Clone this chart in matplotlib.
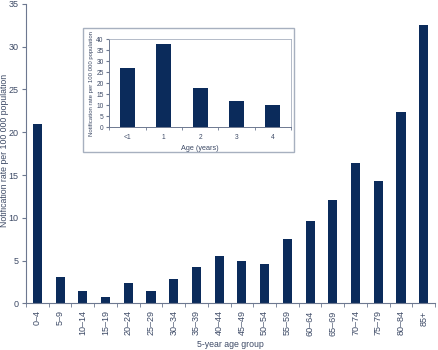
import matplotlib.pyplot as plt
from matplotlib.patches import Rectangle

plt.rcParams['font.family'] = ['Liberation Sans', 'DejaVu Sans']

age_groups = ['0–4', '5–9', '10–14', '15–19', '20–24', '25–29', '30–34', '35–39',
              '40–44', '45–49', '50–54', '55–59', '60–64', '65–69', '70–74',
              '75–79', '80–84', '85+']
rates = [21.0, 3.1, 1.5, 0.8, 2.4, 1.4, 2.85, 4.25, 5.55, 5.0, 4.65, 7.5,
         9.65, 12.1, 16.4, 14.3, 22.4, 32.55]

inset_ages = ['<1', '1', '2', '3', '4']
inset_rates = [27.0, 37.8, 18.0, 11.7, 10.0]

bar_color = '#0b2b5b'
text_color = '#3d4a66'
axis_color = '#6d7890'

fig = plt.figure(figsize=(4.38, 3.5), dpi=100)

# main chart
ax = fig.add_axes([0.0594, 0.133, 0.934, 0.856])
x = list(range(len(age_groups)))
ax.bar(x, rates, width=0.4, color=bar_color)
ax.set_xlim(-0.5, len(age_groups) - 0.5)
ax.set_ylim(0, 35)
ax.set_yticks(range(0, 36, 5))
ax.set_xticks(x)
ax.set_xticklabels(age_groups, rotation=90)
ax.set_xticks([i - 0.5 for i in range(len(age_groups) + 1)], minor=True)
ax.tick_params(axis='x', which='major', length=0, labelsize=6.5, colors=text_color, pad=5)
ax.tick_params(axis='x', which='minor', length=3, color=axis_color)
ax.tick_params(axis='y', length=3, labelsize=6.5, colors=text_color, color=axis_color, pad=2.5)
for s in ['top', 'right']:
    ax.spines[s].set_visible(False)
for s in ['left', 'bottom']:
    ax.spines[s].set_color(axis_color)
    ax.spines[s].set_linewidth(0.8)
ax.set_xlabel('5-year age group', fontsize=6.3, color=text_color, labelpad=3)
ax.set_ylabel('Notification rate per 100 000 population', fontsize=6.3,
              color=text_color)
ax.yaxis.set_label_coords(-0.041, 0.51)

# inset frame
fig.patches.append(Rectangle((83 / 438, 1 - 152 / 350), 211 / 438, 124 / 350,
                             transform=fig.transFigure, facecolor='white',
                             edgecolor='#a7b0bf', linewidth=1.0, zorder=2))

# inset chart
ins = fig.add_axes([0.2495, 0.637, 0.4145, 0.251], zorder=3)
xi = list(range(len(inset_ages)))
ins.bar(xi, inset_rates, width=0.41, color=bar_color)
ins.set_xlim(-0.5, len(inset_ages) - 0.5)
ins.set_ylim(0, 40)
ins.set_yticks(range(0, 41, 5))
ins.set_xticks(xi)
ins.set_xticklabels(inset_ages)
ins.set_xticks([i - 0.5 for i in range(len(inset_ages) + 1)], minor=True)
ins.tick_params(axis='x', which='major', length=0, labelsize=4.8, colors=text_color, pad=5)
ins.tick_params(axis='x', which='minor', length=2, color=axis_color)
ins.tick_params(axis='y', length=2, labelsize=4.8, colors=text_color, color=axis_color, pad=2)
for s in ['top', 'right']:
    ins.spines[s].set_color('#a7b0bf')
    ins.spines[s].set_linewidth(0.6)
for s in ['left', 'bottom']:
    ins.spines[s].set_color(axis_color)
    ins.spines[s].set_linewidth(0.7)
ins.set_xlabel('Age (years)', fontsize=5.2, color=text_color, labelpad=3)
ins.set_ylabel('Notification rate per 100 000 population', fontsize=4.3,
               color=text_color, labelpad=2)

fig.savefig('out.png', dpi=100)
